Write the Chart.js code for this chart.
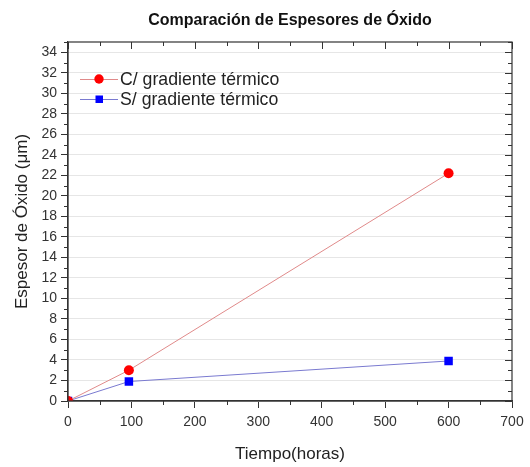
<!DOCTYPE html>
<html>
<head>
<meta charset="utf-8">
<script src="https://cdn.jsdelivr.net/npm/chart.js@4/dist/chart.umd.min.js"></script>
<style>
  html, body { margin: 0; padding: 0; background: #fff; }
  #wrap { width: 530px; height: 467px; }
</style>
</head>
<body>
<div id="wrap"><canvas id="oxideChart" width="530" height="467"></canvas></div>
<script>
// Data
const tiempoHoras = [0, 96, 600];
const conGradiente = [0, 3.0, 22.2];
const sinGradiente = [0, 1.9, 3.9];
const seriesLabels = ['C/ gradiente térmico', 'S/ gradiente térmico'];
const xTicks = [0, 100, 200, 300, 400, 500, 600, 700];
const yTicks = [0, 2, 4, 6, 8, 10, 12, 14, 16, 18, 20, 22, 24, 26, 28, 30, 32, 34];

const FONT = 'Arial, "Liberation Sans", sans-serif';

function toPoints(xs, ys) {
  return xs.map((x, i) => ({ x: x, y: ys[i] }));
}

// Frame, minor ticks, mirrored ticks on top/right and the inset legend
const framePlugin = {
  id: 'frame',
  afterDraw(chart) {
    const { ctx, chartArea: a, scales } = chart;
    const xs = scales.x, ys = scales.y;
    ctx.save();
    ctx.strokeStyle = '#333';
    ctx.lineWidth = 1.2;
    ctx.strokeRect(a.left, a.top, a.right - a.left, a.bottom - a.top);
    ctx.lineWidth = 1;
    ctx.beginPath();
    for (let v = 0; v <= 35; v += 1) {
      const py = Math.round(ys.getPixelForValue(v)) + 0.5;
      const major = v % 2 === 0;
      if (!major) { ctx.moveTo(a.left - 4, py); ctx.lineTo(a.left, py); }
      ctx.moveTo(a.right, py); ctx.lineTo(a.right - (major ? 7 : 4), py);
    }
    for (let v = 0; v <= 700; v += 50) {
      const px = Math.round(xs.getPixelForValue(v)) + 0.5;
      const major = v % 100 === 0;
      if (!major) { ctx.moveTo(px, a.bottom); ctx.lineTo(px, a.bottom + 4); }
      ctx.moveTo(px, a.top); ctx.lineTo(px, a.top + (major ? 7 : 4));
    }
    ctx.stroke();

    // legend
    const items = [
      { color: '#ff0000', line: '#e08a8a', style: 'circle' },
      { color: '#0000ff', line: '#7a7ad0', style: 'rect' }
    ];
    ctx.font = '17.7px ' + FONT;
    ctx.textBaseline = 'middle';
    items.forEach((it, i) => {
      const cy = 79 + i * 20;
      ctx.strokeStyle = it.line;
      ctx.beginPath();
      ctx.moveTo(80, cy + 0.5); ctx.lineTo(118, cy + 0.5);
      ctx.stroke();
      ctx.fillStyle = it.color;
      if (it.style === 'circle') {
        ctx.beginPath(); ctx.arc(99, cy, 4.7, 0, Math.PI * 2); ctx.fill();
      } else {
        ctx.fillRect(95.5, cy - 3.5, 7.5, 7.5);
      }
      ctx.fillStyle = '#222';
      ctx.fillText(seriesLabels[i], 120, cy + 1);
    });
    ctx.restore();
  }
};

const ctx = document.getElementById('oxideChart').getContext('2d');
new Chart(ctx, {
  type: 'scatter',
  data: {
    datasets: [
      {
        label: seriesLabels[0],
        data: toPoints(tiempoHoras, conGradiente),
        showLine: true,
        borderColor: '#e08a8a',
        borderWidth: 1,
        pointStyle: 'circle',
        pointRadius: 5,
        pointBackgroundColor: '#ff0000',
        pointBorderColor: '#ff0000',
        pointBorderWidth: 0
      },
      {
        label: seriesLabels[1],
        data: toPoints(tiempoHoras, sinGradiente),
        showLine: true,
        borderColor: '#7a7ad0',
        borderWidth: 1,
        pointStyle: 'rect',
        pointRadius: 6,
        pointBackgroundColor: '#0000ff',
        pointBorderColor: '#0000ff',
        pointBorderWidth: 0
      }
    ]
  },
  options: {
    responsive: false,
    animation: false,
    layout: { padding: { left: 0, right: 18, top: 0, bottom: 0 } },
    plugins: {
      legend: { display: false },
      tooltip: { enabled: false },
      title: {
        display: true,
        fullSize: false,
        text: 'Comparación de Espesores de Óxido',
        color: '#111',
        font: { family: FONT, size: 16, weight: 'bold' },
        padding: { top: 10.5, bottom: 12.3 }
      }
    },
    scales: {
      x: {
        type: 'linear',
        min: 0,
        max: 700,
        afterBuildTicks(scale) { scale.ticks = xTicks.map(v => ({ value: v })); },
        afterFit(scale) { scale.height = 66; },
        grid: { drawOnChartArea: false, tickLength: 7, tickColor: '#333' },
        border: { display: true, color: '#333', width: 1.2 },
        ticks: { color: '#333', font: { family: FONT, size: 14 }, padding: 6, maxRotation: 0 },
        title: {
          display: true,
          text: 'Tiempo(horas)',
          color: '#222',
          font: { family: FONT, size: 17 },
          padding: { top: 0, bottom: 2 }
        }
      },
      y: {
        type: 'linear',
        min: 0,
        max: 35,
        afterBuildTicks(scale) { scale.ticks = yTicks.map(v => ({ value: v })); },
        afterFit(scale) { scale.width = 68; },
        grid: { color: '#e6e6e6', tickLength: 7, tickColor: '#333' },
        border: { display: true, color: '#333', width: 1.2 },
        ticks: { color: '#333', font: { family: FONT, size: 14 }, padding: 4 },
        title: {
          display: true,
          text: 'Espesor de Óxido (μm)',
          color: '#222',
          font: { family: FONT, size: 17 },
          padding: { top: 12, bottom: 0 }
        }
      }
    }
  },
  plugins: [framePlugin]
});
</script>
</body>
</html>
